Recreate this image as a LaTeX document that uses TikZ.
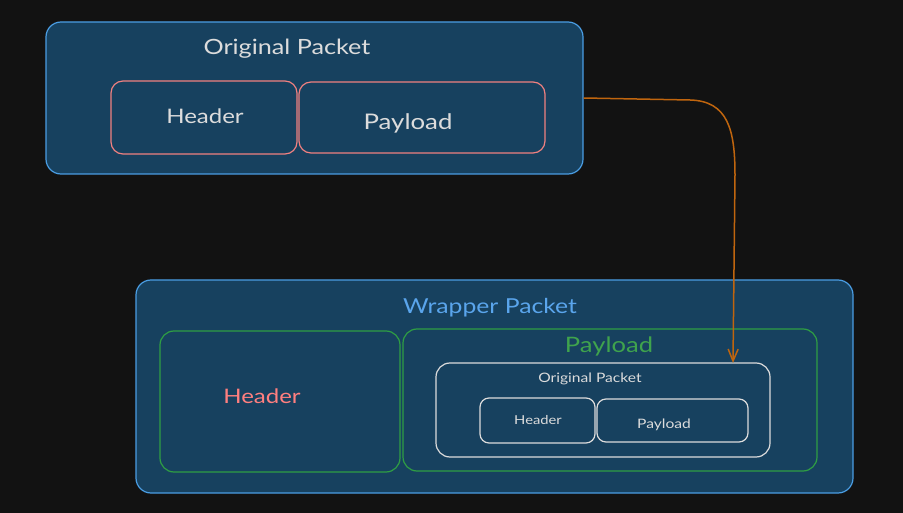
\documentclass[tikz,border=0pt]{standalone}
\usepackage{fontspec}
\setmainfont{Lato}[FakeStretch=1.2]
\usetikzlibrary{arrows.meta}
\definecolor{bg}{HTML}{121212}
\definecolor{boxfill}{HTML}{17415F}
\definecolor{bluestroke}{HTML}{4A9DE3}
\definecolor{redstroke}{HTML}{F08080}
\definecolor{greenstroke}{HTML}{2F9E44}
\definecolor{whitestroke}{HTML}{DCDCDC}
\definecolor{txt}{HTML}{DCDCDC}
\definecolor{bluetxt}{HTML}{5AA5EC}
\definecolor{redtxt}{HTML}{FF7F7F}
\definecolor{greentxt}{HTML}{3FA34D}
\definecolor{arrowcol}{HTML}{C0650E}
\tikzset{
  box/.style={rectangle, rounded corners=#1, fill=boxfill, line width=1.2pt, inner sep=0pt},
  box/.default=12pt,
  lbl/.style={inner sep=0pt, anchor=center},
}
\begin{document}
\begin{tikzpicture}[x=1pt,y=-1pt]
\fill[bg] (0,0) rectangle (903,513);
\useasboundingbox (0,0) rectangle (903,513);
% top original packet
\node[box=15pt, draw=bluestroke, minimum width=537pt, minimum height=152pt] (orig) at (314.5,98) {};
\node[lbl, text=txt, font=\fontsize{21}{25}\selectfont] (origt) at (287,49) {Original Packet};
\node[box=12pt, draw=redstroke, minimum width=186pt, minimum height=73pt] (oh) at (204,117.5) {};
\node[lbl, text=txt, font=\fontsize{20}{24}\selectfont] (oht) at (205,116) {Header};
\node[box=12pt, draw=redstroke, minimum width=246pt, minimum height=71pt] (op) at (422,117.5) {};
\node[lbl, text=txt, font=\fontsize{21.5}{25}\selectfont] (opt) at (408,123) {Payload};
% wrapper packet
\node[box=15pt, draw=bluestroke, minimum width=717pt, minimum height=213pt] (wrap) at (494.5,386.5) {};
\node[lbl, text=bluetxt, font=\fontsize{20.6}{25}\selectfont] (wrapt) at (490,308) {Wrapper Packet};
\node[box=14pt, draw=greenstroke, minimum width=240pt, minimum height=141pt] (wh) at (280,401.5) {};
\node[lbl, text=redtxt, font=\fontsize{20}{24}\selectfont] (wht) at (262,396) {Header};
\node[box=14pt, draw=greenstroke, minimum width=414pt, minimum height=142pt] (wp) at (610,400) {};
\node[lbl, text=greentxt, font=\fontsize{21.3}{26}\selectfont] (wpt) at (609,346) {Payload};
% inner original packet
\node[box=14pt, draw=whitestroke, minimum width=334pt, minimum height=94pt] (inner) at (603,410) {};
\node[lbl, text=txt, font=\fontsize{13}{16}\selectfont] (innert) at (590,379) {Original Packet};
\node[box=9pt, draw=whitestroke, minimum width=115pt, minimum height=45pt] (ih) at (537.5,420.5) {};
\node[lbl, text=txt, font=\fontsize{12.3}{15}\selectfont] (iht) at (538,420) {Header};
\node[box=9pt, draw=whitestroke, minimum width=151pt, minimum height=43pt] (ip) at (672.5,420.5) {};
\node[lbl, text=txt, font=\fontsize{13}{16}\selectfont] (ipt) at (664,425) {Payload};
% arrow
\coordinate (tip) at (733,363);
\draw[arrowcol, line width=1.5pt, -{Straight Barb[length=12pt,width=10pt]}]
  (orig.east) -- (690,100) .. controls (728,101) and (735,130) .. (735,175) -- (tip);
\end{tikzpicture}
\end{document}
